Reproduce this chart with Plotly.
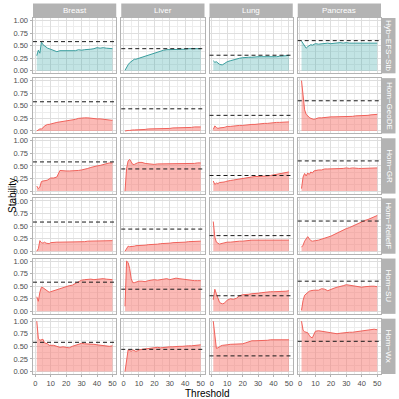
import plotly.graph_objects as go
from plotly.subplots import make_subplots

# threshold values (x)
threshold = [1, 2, 3, 4, 5, 6, 7, 8, 9, 10, 12, 14, 16, 18, 20, 22, 24, 26, 28, 30,
             32, 34, 36, 38, 40, 42, 44, 46, 48, 50]

tissues = ["Breast", "Liver", "Lung", "Pancreas"]
methods = ["Hyb\u2212EFS\u2212Stb", "Hom\u2212GeoDE", "Hom\u2212GR", "Hom\u2212ReliefF", "Hom\u2212SU", "Hom\u2212Wx"]

# dashed reference line per tissue
reference = [0.58, 0.44, 0.31, 0.60]

# Hyb-EFS-Stb
hyb_breast = [0.30, 0.41, 0.35, 0.57, 0.52, 0.49, 0.47, 0.45, 0.44, 0.43, 0.40, 0.38, 0.40, 0.40, 0.41, 0.40, 0.41, 0.40, 0.42, 0.41, 0.42, 0.42, 0.43, 0.44, 0.46, 0.45, 0.46, 0.45, 0.45, 0.44]
hyb_liver = [0.01, 0.08, 0.12, 0.16, 0.19, 0.22, 0.23, 0.23, 0.24, 0.25, 0.27, 0.29, 0.31, 0.34, 0.36, 0.38, 0.40, 0.41, 0.42, 0.42, 0.43, 0.42, 0.43, 0.43, 0.43, 0.44, 0.44, 0.44, 0.44, 0.44]
hyb_lung = [0.20, 0.17, 0.18, 0.15, 0.13, 0.12, 0.12, 0.14, 0.16, 0.18, 0.20, 0.22, 0.23, 0.25, 0.26, 0.27, 0.27, 0.27, 0.28, 0.28, 0.28, 0.28, 0.27, 0.27, 0.28, 0.28, 0.29, 0.29, 0.30, 0.31]
hyb_pancreas = [0.59, 0.55, 0.50, 0.45, 0.48, 0.50, 0.52, 0.51, 0.53, 0.54, 0.53, 0.54, 0.55, 0.55, 0.54, 0.55, 0.55, 0.56, 0.55, 0.56, 0.55, 0.55, 0.56, 0.55, 0.56, 0.56, 0.56, 0.55, 0.56, 0.55]

# Hom-GeoDE
geode_breast = [0.00, 0.02, 0.04, 0.04, 0.06, 0.10, 0.12, 0.13, 0.13, 0.14, 0.16, 0.17, 0.18, 0.19, 0.19, 0.20, 0.22, 0.23, 0.25, 0.26, 0.26, 0.26, 0.25, 0.25, 0.24, 0.24, 0.23, 0.22, 0.22, 0.21]
geode_liver = [0.00, 0.01, 0.01, 0.01, 0.02, 0.02, 0.02, 0.02, 0.03, 0.03, 0.03, 0.03, 0.04, 0.04, 0.04, 0.04, 0.05, 0.05, 0.05, 0.05, 0.06, 0.06, 0.06, 0.06, 0.07, 0.07, 0.07, 0.08, 0.08, 0.08]
geode_lung = [0.03, 0.10, 0.07, 0.05, 0.06, 0.06, 0.06, 0.07, 0.08, 0.09, 0.09, 0.10, 0.10, 0.11, 0.11, 0.12, 0.12, 0.13, 0.13, 0.14, 0.14, 0.15, 0.15, 0.16, 0.16, 0.17, 0.17, 0.17, 0.18, 0.18]
geode_pancreas = [1.00, 0.62, 0.42, 0.33, 0.29, 0.27, 0.25, 0.24, 0.23, 0.24, 0.26, 0.26, 0.27, 0.27, 0.28, 0.28, 0.28, 0.28, 0.29, 0.29, 0.29, 0.29, 0.30, 0.30, 0.30, 0.31, 0.31, 0.32, 0.33, 0.33]

# Hom-GR
gr_breast = [0.10, 0.05, 0.08, 0.19, 0.20, 0.20, 0.21, 0.22, 0.24, 0.26, 0.26, 0.28, 0.41, 0.40, 0.40, 0.40, 0.40, 0.40, 0.41, 0.42, 0.43, 0.45, 0.47, 0.49, 0.50, 0.51, 0.53, 0.55, 0.56, 0.56]
gr_liver = [0.00, 0.45, 0.60, 0.63, 0.58, 0.53, 0.53, 0.55, 0.56, 0.57, 0.57, 0.55, 0.54, 0.54, 0.53, 0.54, 0.54, 0.55, 0.55, 0.55, 0.54, 0.54, 0.55, 0.55, 0.54, 0.54, 0.55, 0.55, 0.56, 0.56]
gr_lung = [0.20, 0.13, 0.16, 0.15, 0.17, 0.17, 0.18, 0.18, 0.19, 0.20, 0.21, 0.22, 0.23, 0.25, 0.26, 0.27, 0.28, 0.28, 0.29, 0.29, 0.29, 0.29, 0.30, 0.31, 0.32, 0.33, 0.34, 0.36, 0.37, 0.38]
gr_pancreas = [0.05, 0.28, 0.35, 0.30, 0.36, 0.33, 0.38, 0.36, 0.40, 0.41, 0.42, 0.42, 0.44, 0.44, 0.44, 0.45, 0.45, 0.45, 0.45, 0.46, 0.45, 0.46, 0.45, 0.45, 0.45, 0.45, 0.45, 0.45, 0.46, 0.46]

# Hom-ReliefF
relieff_breast = [0.00, 0.05, 0.21, 0.17, 0.16, 0.18, 0.16, 0.15, 0.15, 0.17, 0.18, 0.18, 0.18, 0.18, 0.18, 0.18, 0.19, 0.19, 0.19, 0.19, 0.19, 0.20, 0.20, 0.20, 0.20, 0.20, 0.21, 0.21, 0.21, 0.21]
relieff_liver = [0.00, 0.05, 0.10, 0.09, 0.09, 0.10, 0.10, 0.11, 0.11, 0.11, 0.12, 0.12, 0.13, 0.13, 0.14, 0.14, 0.15, 0.15, 0.16, 0.16, 0.17, 0.17, 0.17, 0.18, 0.18, 0.19, 0.19, 0.19, 0.20, 0.20]
relieff_lung = [0.59, 0.28, 0.18, 0.15, 0.14, 0.15, 0.16, 0.16, 0.17, 0.18, 0.18, 0.19, 0.20, 0.20, 0.20, 0.21, 0.22, 0.22, 0.22, 0.22, 0.23, 0.23, 0.23, 0.22, 0.22, 0.22, 0.22, 0.22, 0.22, 0.22]
relieff_pancreas = [0.08, 0.12, 0.20, 0.26, 0.29, 0.25, 0.21, 0.20, 0.21, 0.21, 0.22, 0.24, 0.25, 0.27, 0.30, 0.33, 0.36, 0.39, 0.43, 0.45, 0.47, 0.50, 0.53, 0.56, 0.59, 0.61, 0.63, 0.66, 0.69, 0.71]

# Hom-SU
su_breast = [0.29, 0.20, 0.38, 0.48, 0.47, 0.45, 0.42, 0.40, 0.38, 0.39, 0.41, 0.43, 0.45, 0.47, 0.50, 0.51, 0.52, 0.55, 0.58, 0.62, 0.63, 0.64, 0.64, 0.63, 0.64, 0.64, 0.65, 0.64, 0.64, 0.63]
su_liver = [0.10, 1.00, 0.97, 0.85, 0.65, 0.57, 0.57, 0.58, 0.59, 0.60, 0.60, 0.59, 0.61, 0.62, 0.63, 0.62, 0.63, 0.64, 0.65, 0.63, 0.64, 0.66, 0.65, 0.64, 0.63, 0.62, 0.62, 0.61, 0.61, 0.61]
su_lung = [0.23, 0.44, 0.35, 0.25, 0.18, 0.16, 0.15, 0.16, 0.19, 0.22, 0.25, 0.24, 0.26, 0.31, 0.33, 0.33, 0.34, 0.35, 0.35, 0.36, 0.37, 0.38, 0.38, 0.39, 0.39, 0.39, 0.40, 0.40, 0.40, 0.41]
su_pancreas = [0.02, 0.22, 0.32, 0.35, 0.37, 0.40, 0.41, 0.42, 0.42, 0.42, 0.42, 0.45, 0.44, 0.41, 0.44, 0.46, 0.48, 0.49, 0.51, 0.53, 0.52, 0.50, 0.49, 0.48, 0.48, 0.49, 0.50, 0.50, 0.50, 0.49]

# Hom-Wx
wx_breast = [1.00, 0.66, 0.62, 0.63, 0.64, 0.57, 0.56, 0.55, 0.52, 0.52, 0.52, 0.50, 0.48, 0.49, 0.48, 0.47, 0.50, 0.52, 0.54, 0.56, 0.55, 0.55, 0.54, 0.54, 0.53, 0.52, 0.52, 0.51, 0.50, 0.51]
wx_liver = [0.00, 0.25, 0.43, 0.42, 0.40, 0.43, 0.42, 0.40, 0.41, 0.43, 0.44, 0.45, 0.46, 0.47, 0.47, 0.48, 0.47, 0.48, 0.49, 0.49, 0.49, 0.50, 0.50, 0.50, 0.51, 0.51, 0.51, 0.52, 0.52, 0.53]
wx_lung = [1.00, 0.70, 0.46, 0.47, 0.50, 0.51, 0.52, 0.52, 0.53, 0.53, 0.54, 0.54, 0.55, 0.55, 0.55, 0.57, 0.59, 0.61, 0.61, 0.61, 0.62, 0.62, 0.62, 0.63, 0.63, 0.63, 0.63, 0.64, 0.63, 0.63]
wx_pancreas = [1.00, 0.82, 0.79, 0.78, 0.77, 0.72, 0.68, 0.67, 0.75, 0.80, 0.81, 0.80, 0.79, 0.77, 0.76, 0.75, 0.75, 0.76, 0.77, 0.77, 0.78, 0.78, 0.79, 0.80, 0.81, 0.81, 0.82, 0.84, 0.84, 0.83]

grid = [
    [hyb_breast, hyb_liver, hyb_lung, hyb_pancreas],
    [geode_breast, geode_liver, geode_lung, geode_pancreas],
    [gr_breast, gr_liver, gr_lung, gr_pancreas],
    [relieff_breast, relieff_liver, relieff_lung, relieff_pancreas],
    [su_breast, su_liver, su_lung, su_pancreas],
    [wx_breast, wx_liver, wx_lung, wx_pancreas],
]

W, H = 348, 356  # plotting area in px
fig = make_subplots(rows=6, cols=4, shared_xaxes=True, shared_yaxes=True,
                    horizontal_spacing=5 / W, vertical_spacing=4.8 / H)

for r in range(6):
    if r == 0:
        line_c, fill_c = "#3A9E9E", "rgba(64,170,170,0.32)"
    else:
        line_c, fill_c = "#F0625B", "rgba(248,118,109,0.5)"
    for c in range(4):
        fig.add_trace(go.Scatter(x=threshold, y=grid[r][c], mode="lines", fill="tozeroy",
                                 fillcolor=fill_c, line=dict(color=line_c, width=1),
                                 showlegend=False, hoverinfo="skip"),
                      row=r + 1, col=c + 1)
        fig.add_hline(y=reference[c], line=dict(color="#1a1a1a", width=1, dash="4px,3px"),
                      row=r + 1, col=c + 1)

tick_font = dict(family="Liberation Sans", size=7.5, color="#4D4D4D")
fig.update_xaxes(range=[-1.45, 52.45], tickvals=[0, 10, 20, 30, 40, 50],
                 showgrid=True, gridcolor="#DEDEDE", gridwidth=0.7,
                 minor=dict(tickvals=[5, 15, 25, 35, 45], showgrid=True, gridcolor="#EDEDED", gridwidth=0.5),
                 showline=True, mirror=True, linecolor="#B3B3B3", linewidth=1,
                 zeroline=False, tickfont=tick_font)
fig.update_yaxes(range=[-0.05, 1.05], tickvals=[0, 0.25, 0.5, 0.75, 1.0],
                 ticktext=["0.00", "0.25", "0.50", "0.75", "1.00"],
                 showgrid=True, gridcolor="#DEDEDE", gridwidth=0.7,
                 minor=dict(tickvals=[0.125, 0.375, 0.625, 0.875], showgrid=True, gridcolor="#EDEDED", gridwidth=0.5),
                 showline=True, mirror=True, linecolor="#B3B3B3", linewidth=1,
                 zeroline=False, tickfont=tick_font)
for c in range(4):
    fig.update_xaxes(ticks="outside", ticklen=2, tickcolor="#B3B3B3", row=6, col=c + 1)
for r in range(6):
    fig.update_yaxes(ticks="outside", ticklen=2.5, tickcolor="#B3B3B3", row=r + 1, col=1)

strip_font = dict(family="Liberation Sans", size=8, color="white")
shapes = []
annotations = []
for c, name in enumerate(tissues):
    dom = fig.layout["xaxis" + ("" if c == 0 else str(c + 1))].domain
    shapes.append(dict(type="rect", xref="paper", yref="paper", x0=dom[0], x1=dom[1],
                       y0=1 + 1 / H, y1=1 + 14.5 / H, fillcolor="#B3B3B3", line=dict(width=0), layer="below"))
    annotations.append(dict(text=name, x=(dom[0] + dom[1]) / 2, y=1 + 7.75 / H, xref="paper", yref="paper",
                            xanchor="center", yanchor="middle", showarrow=False, font=strip_font))
for r, name in enumerate(methods):
    dom = fig.layout["yaxis" + ("" if r == 0 else str(r * 4 + 1))].domain
    shapes.append(dict(type="rect", xref="paper", yref="paper", x0=1 + 1 / W, x1=1 + 14.5 / W,
                       y0=dom[0], y1=dom[1], fillcolor="#B3B3B3", line=dict(width=0), layer="below"))
    annotations.append(dict(text=name, x=1 + 7.75 / W, y=(dom[0] + dom[1]) / 2, xref="paper", yref="paper",
                            xanchor="center", yanchor="middle", showarrow=False, textangle=90, font=strip_font))

annotations.append(dict(text="Stability", x=-21 / W, y=0.5, xref="paper", yref="paper", showarrow=False,
                        xanchor="center", yanchor="middle", textangle=-90,
                        font=dict(family="Liberation Sans", size=10, color="black")))
annotations.append(dict(text="Threshold", x=0.5, y=-19.5 / H, xref="paper", yref="paper", showarrow=False,
                        xanchor="center", yanchor="middle",
                        font=dict(family="Liberation Sans", size=10, color="black")))

fig.update_layout(width=399, height=399, margin=dict(l=33, r=18, t=18, b=25),
                  plot_bgcolor="white", paper_bgcolor="white",
                  shapes=list(fig.layout.shapes) + shapes,
                  annotations=annotations)

fig.write_html("out.html", config={"displayModeBar": False},
               post_script="document.body.style.margin='0';")
